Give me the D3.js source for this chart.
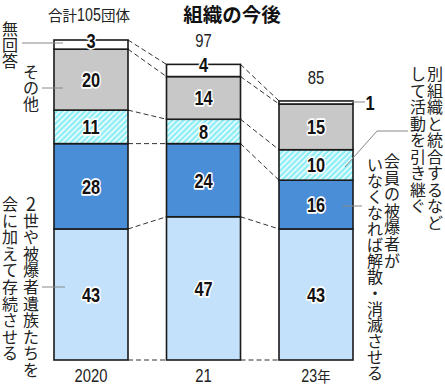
<!DOCTYPE html>
<html>
<head>
<meta charset="utf-8">
<script src="https://cdn.jsdelivr.net/npm/d3@7"></script>
<style>
  body { margin: 0; background: #fff; }
  .num { font-family: "Liberation Sans", Arial, sans-serif; }
  .jp { font-family: "Noto Sans CJK JP", sans-serif; }
</style>
</head>
<body>
<div id="chart"></div>
<script>
// data
var years = ['2020', '21', '23']
var totals = [105, 97, 85]
var keys = ['keep', 'dissolve', 'merge', 'other', 'none']
var keep = [43, 47, 43]      // 2世や被爆者遺族たちを会に加えて存続させる
var dissolve = [28, 24, 16]  // 会員の被爆者がいなくなれば解散・消滅させる
var merge = [11, 8, 10]      // 別組織と統合するなどして活動を引き継ぐ
var other = [20, 14, 15]     // その他
var none = [3, 4, 1]         // 無回答

var rows = years.map((y, i) => ({year: y, keep: keep[i], dissolve: dissolve[i], merge: merge[i], other: other[i], none: none[i]}))

var W = 445, H = 388
var svg = d3.select('#chart').append('svg')
  .attr('width', W).attr('height', H)

var defs = svg.append('defs')
var pat = defs.append('pattern')
  .attr('id', 'hatch').attr('patternUnits', 'userSpaceOnUse')
  .attr('width', 4).attr('height', 4)
  .attr('patternTransform', 'rotate(45)')
pat.append('rect').attr('width', 4).attr('height', 4).attr('fill', '#8eeef6')
pat.append('rect').attr('x', 0).attr('width', 1.4).attr('height', 4).attr('fill', '#fff')

var colors = {keep: '#c3e1fa', dissolve: '#4a8ed8', merge: 'url(#hatch)', other: '#c8c8c8', none: '#fff'}

var x = d3.scalePoint().domain(years).range([91, 316])
var bw = 74
var y = d3.scaleLinear().domain([0, 105]).range([360, 40])

var series = d3.stack().keys(keys)(rows)

// condensed number text
function num(px, py, txt, size, bold) {
  return svg.append('text').attr('class', 'num')
    .attr('transform', `translate(${px},${py}) scale(0.78,1)`)
    .attr('text-anchor', 'middle')
    .attr('font-size', size).attr('font-weight', bold ? 'bold' : 'normal')
    .attr('fill', '#111').text(txt)
}

// mixed jp + condensed digits, centred on cx
function mixed(parts, cx, py) {
  var nodes = parts.map(p => {
    var t = svg.append('text').attr('class', p.cls).attr('font-size', p.size)
      .attr('fill', '#222').text(p.text)
    return {t: t, w: t.node().getComputedTextLength() * p.sx, sx: p.sx}
  })
  var total = d3.sum(nodes, n => n.w)
  var cur = cx - total / 2
  nodes.forEach(n => {
    n.t.attr('transform', `translate(${cur},${py}) scale(${n.sx},1)`)
    cur += n.w
  })
}

// dashed connectors between bars
for (var i = 0; i < years.length - 1; i++) {
  var a = [0], b = [0]
  series.forEach(s => { a.push(s[i][1]); b.push(s[i + 1][1]) })
  a.forEach((v, j) => {
    svg.append('line')
      .attr('x1', x(years[i]) + bw / 2).attr('y1', y(v))
      .attr('x2', x(years[i + 1]) - bw / 2).attr('y2', y(b[j]))
      .attr('stroke', '#333').attr('stroke-width', 1)
      .attr('stroke-dasharray', '5,3')
  })
}

// bars
var g = svg.selectAll('g.layer').data(series).enter().append('g').attr('class', 'layer')
g.selectAll('rect').data(d => d).enter().append('rect')
  .attr('x', d => x(d.data.year) - bw / 2)
  .attr('width', bw)
  .attr('y', d => y(d[1]))
  .attr('height', d => y(d[0]) - y(d[1]))
  .attr('fill', function(d) { return colors[d3.select(this.parentNode).datum().key] })
  .attr('stroke', '#1a1a1a').attr('stroke-width', 1.6)

// value labels
series.forEach(s => {
  s.forEach((d, i) => {
    if (s.key === 'none' && i === 2) return
    var cy = s.key === 'none' ? y(d[1]) : (y(d[0]) + y(d[1])) / 2
    num(x(d.data.year), cy + 7.5, d[1] - d[0], 21, true)
      .attr('stroke', '#fff').attr('stroke-width', 3.5).attr('paint-order', 'stroke')
      .attr('stroke-linejoin', 'round')
  })
})

// "1" outside bar 3
num(370, y(84.5) + 7.5, none[2], 21, true)

// totals
mixed([
  {text: '合計', cls: 'jp', size: 14.5, sx: 1},
  {text: totals[0], cls: 'num', size: 19, sx: 0.75},
  {text: '団体', cls: 'jp', size: 14.5, sx: 1}
], 89, 21)
totals.slice(1).forEach((t, i) => {
  num(x(years[i + 1]), y(t) - 17, t, 19, false).attr('fill', '#222')
})

// x labels
years.forEach((yr, i) => {
  if (i < 2) {
    num(x(yr), 382, yr, 19, false).attr('fill', '#222')
  } else {
    mixed([
      {text: yr, cls: 'num', size: 19, sx: 0.75},
      {text: '年', cls: 'jp', size: 15, sx: 0.9}
    ], x(yr), 382)
  }
})

// title
svg.append('text').attr('class', 'jp').attr('x', 232).attr('y', 22)
  .attr('text-anchor', 'middle').attr('font-size', 19.5).attr('font-weight', 'bold')
  .attr('fill', '#111').text('組織の今後')

// vertical labels, one glyph per row (cy0 = centre of first glyph)
function vtext(str, cx, cy0, step) {
  var t = svg.append('text').attr('class', 'jp').attr('font-size', 16).attr('fill', '#222')
    .attr('text-anchor', 'middle').attr('dominant-baseline', 'central')
  Array.from(str).forEach((ch, i) => {
    t.append('tspan').attr('x', cx).attr('y', cy0 + i * step)
      .attr('font-size', ch === '2' ? 18 : null).text(ch)
  })
}
vtext('無回答', 10, 28, 16)
vtext('その他', 31, 71, 16)
vtext('2世や被爆者遺族たちを', 31, 203, 16.6)
vtext('会に加えて存続させる', 10, 203, 16.6)
vtext('別組織と統合するなど', 435, 73, 16.5)
vtext('して活動を引き継ぐ', 418, 73, 16.5)
vtext('会員の被爆者が', 392, 160, 16.6)
vtext('いなくなれば解散・消滅させる', 375, 164, 16)

// leader lines
var leaders = [
  [[22, 43], [63, 43]],
  [[42, 88], [63, 88]],
  [[42, 287], [65, 287]],
  [[345, 167], [377, 131], [408, 131]],
  [[342, 206], [362, 206]],
  [[352, 102], [365, 102]]
]
leaders.forEach(p => {
  svg.append('path').attr('d', d3.line()(p))
    .attr('fill', 'none').attr('stroke', '#888').attr('stroke-width', 1)
})
</script>
</body>
</html>
